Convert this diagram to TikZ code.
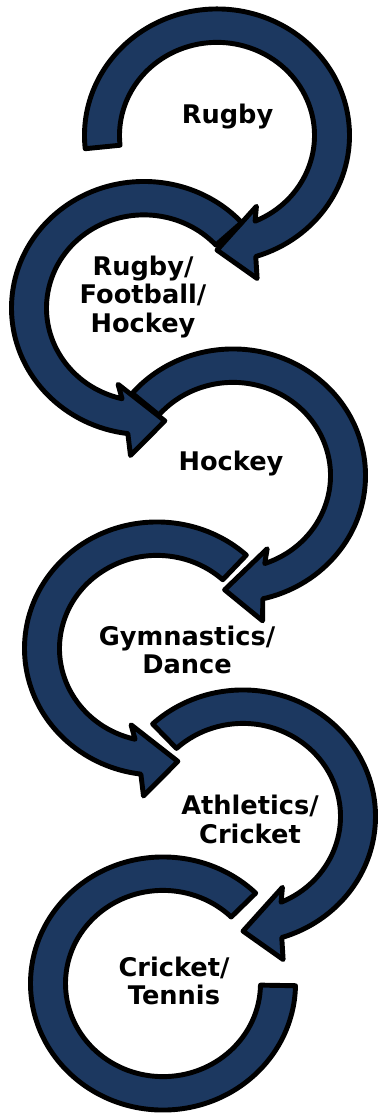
\documentclass[tikz,border=0pt]{standalone}
\usepackage{fontspec}
\setmainfont{DejaVu Sans}
\definecolor{ringblue}{HTML}{1C3860}

% one ring with its head: centre x, centre y, start angle, base angle, turn (+1 ccw, -1 cw)
\newcommand{\ringarrow}[5]{%
  \begin{scope}[shift={(#1,#2)}, yscale=0.955]
    \pgfmathsetmacro{\outnotch}{#4+#5*6}
    \pgfmathsetmacro{\inbarb}{#4-#5*5}
    \pgfmathsetmacro{\outbarb}{#4+#5*8}
    \pgfmathsetmacro{\headtip}{#4+#5*23}
    \draw[ring] (#3:132.5) arc[start angle=#3, end angle=\outnotch, radius=132.5]
      -- (\outbarb:155) -- (\headtip:120) -- (\inbarb:84) -- (#4:97.5)
      arc[start angle=#4, end angle=#3, radius=97.5] -- cycle;
  \end{scope}}

\begin{document}
\begin{tikzpicture}[x=0.05cm, y=0.05cm,
    ring/.style={draw=black, fill=ringblue, line width=7pt, line join=round},
    sportname/.style={font=\bfseries\fontsize{36.5pt}{41pt}\selectfont, align=center, inner sep=0pt}]
    \useasboundingbox (0,0) rectangle (383,-1117);
    \ringarrow{217}{-135.5}{186}{-67}{-1}
    \ringarrow{144}{-308}{42.5}{257}{1}
    \ringarrow{233}{-475.5}{139.5}{-71}{-1}
    \ringarrow{157}{-648.5}{47.6}{257}{1}
    \ringarrow{243}{-816.5}{133}{-67}{-1}
    % last ring has no head
    \begin{scope}[shift={(163,-983.5)}, yscale=0.955]
        \draw[ring] (45.6:132.5) arc[start angle=45.6, end angle=359, radius=132.5]
          -- (359:97.5) arc[start angle=359, end angle=45.6, radius=97.5] -- cycle;
    \end{scope}
    \node[sportname] (rugby) at (227.5,-116.5) {Rugby};
    \node[sportname] (mixed) at (143,-297) {Rugby/\\Football/\\Hockey};
    \node[sportname] (hockey) at (231,-464) {Hockey};
    \node[sportname] (gym) at (187,-650) {Gymnastics/\\Dance};
    \node[sportname] (athletics) at (250,-819.5) {Athletics/\\Cricket};
    \node[sportname] (tennis) at (174,-981) {Cricket/\\Tennis};
\end{tikzpicture}
\end{document}
